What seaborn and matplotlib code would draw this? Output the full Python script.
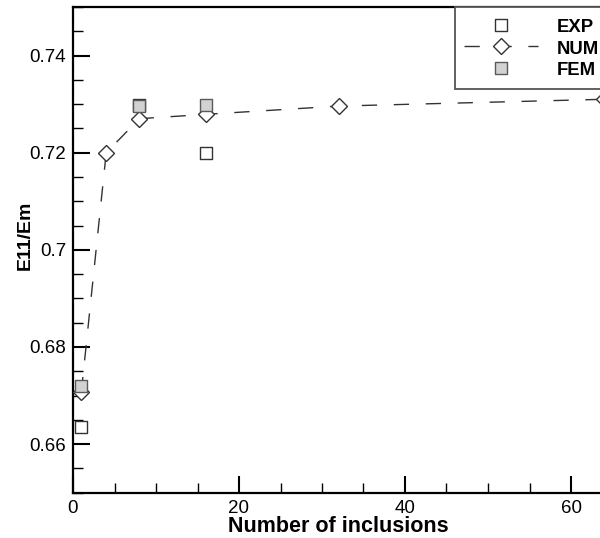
import matplotlib
matplotlib.use("Agg")
import matplotlib.pyplot as plt
import pandas as pd
import seaborn as sns
from matplotlib.ticker import MultipleLocator, FuncFormatter

# Normalised longitudinal modulus E11/Em versus number of inclusions
n_exp = [1, 8, 16]
e_exp = [0.6636, 0.7299, 0.7199]

n_num = [1, 4, 8, 16, 32, 64]
e_num = [0.6707, 0.7200, 0.7270, 0.7279, 0.7296, 0.7310]

n_fem = [1, 8, 16]
e_fem = [0.6719, 0.7296, 0.7298]

exp_df = pd.DataFrame({"n": n_exp, "e": e_exp})
num_df = pd.DataFrame({"n": n_num, "e": e_num})
fem_df = pd.DataFrame({"n": n_fem, "e": e_fem})

sns.set_style("ticks")
plt.rcParams["font.family"] = ["Liberation Sans", "DejaVu Sans"]
plt.rcParams["text.color"] = "black"
plt.rcParams["axes.labelcolor"] = "black"
plt.rcParams["xtick.color"] = "black"
plt.rcParams["ytick.color"] = "black"

fig = plt.figure(figsize=(6.0, 5.38), dpi=100)
ax = fig.add_axes([73 / 600, 45.3 / 538, 581 / 600, 485.7 / 538])

dark = "#333333"

sns.scatterplot(data=exp_df, x="n", y="e", marker="s", s=72, color="white",
                edgecolor=dark, linewidth=1.0, label="EXP", zorder=3, ax=ax)
sns.lineplot(data=num_df, x="n", y="e", marker="D", markersize=7.7,
             markerfacecolor="white", markeredgecolor=dark, markeredgewidth=1.0,
             color=dark, linewidth=1.0, label="NUM", zorder=4, ax=ax)
ax.lines[-1].set_linestyle((0, (11, 12)))
sns.scatterplot(data=fem_df, x="n", y="e", marker="s", s=75, color="#d2d2d2",
                edgecolor="#5a5a5a", linewidth=1.0, label="FEM", zorder=5, ax=ax)

ax.set_xlim(0, 70)
ax.set_ylim(0.65, 0.75)
ax.xaxis.set_major_locator(MultipleLocator(20))
ax.xaxis.set_minor_locator(MultipleLocator(5))
ax.yaxis.set_major_locator(MultipleLocator(0.02))
ax.yaxis.set_minor_locator(MultipleLocator(0.005))
fmt = FuncFormatter(lambda v, p: f"{v:g}")
ax.xaxis.set_major_formatter(fmt)
ax.yaxis.set_major_formatter(fmt)

ax.tick_params(which="major", direction="in", length=12, width=1.5,
               labelsize=13.5, pad=5, colors="black")
ax.tick_params(which="minor", direction="in", length=7, width=1.0)
ax.tick_params(top=False, right=False, which="both")
for sp in ax.spines.values():
    sp.set_linewidth(1.6)
    sp.set_color("black")

ax.set_xlabel("Number of inclusions", fontsize=15.5, fontweight="bold")
ax.set_ylabel("E11/Em", fontsize=14, fontweight="bold")
ax.xaxis.set_label_coords(0.457, -0.048)
ax.yaxis.set_label_coords(-0.068, 0.53)

leg = ax.legend(loc="upper left", bbox_to_anchor=(455 / 600, 1 - 7 / 538),
                bbox_transform=fig.transFigure, borderaxespad=0,
                frameon=True, fancybox=False, framealpha=1,
                edgecolor="#555555", prop={"weight": "bold", "size": 13.3},
                handlelength=4.0, handleheight=1.2, handletextpad=1.03,
                borderpad=0.5, labelspacing=0.11, scatterpoints=1, numpoints=1)
leg.get_frame().set_linewidth(1.3)

fig.savefig("out.png", dpi=100)
